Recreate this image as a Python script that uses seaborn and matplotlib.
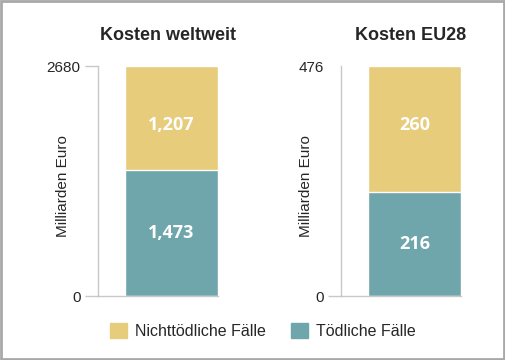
import numpy as np
import matplotlib
matplotlib.use("Agg")
import matplotlib.pyplot as plt
import matplotlib.patches as mpatches
import seaborn as sns
import pandas as pd

# Daten
titles = ["Kosten weltweit", "Kosten EU28"]
toedlich = [1473, 216]
nicht_toedlich = [1207, 260]
bar_labels_fatal = ["1,473", "216"]
bar_labels_nonfatal = ["1,207", "260"]
legend_labels = ["Nichttödliche Fälle", "Tödliche Fälle"]

yellow = "#E6CC7B"
teal = "#6FA6AB"
grey = "#C8C8C8"

sns.set_style("white")
plt.rcParams["font.family"] = ["Liberation Sans", "DejaVu Sans"]
narrow = ["Liberation Sans Narrow", "Liberation Sans", "DejaVu Sans"]
label_font = ["Open Sans", "DejaVu Sans"]

W, H = 506, 360
fig = plt.figure(figsize=(W / 100, H / 100), dpi=100)

# Achsen in Pixelkoordinaten (links, unten, breite, hoehe)
ax_px = [(98, 64, 120, 230), (341, 64, 120, 230)]

for i, (x0, y0, w, h) in enumerate(ax_px):
    ax = fig.add_axes([x0 / W, y0 / H, w / W, h / H])
    total = toedlich[i] + nicht_toedlich[i]
    df = pd.DataFrame({"cat": ["a"], "total": [total], "fatal": [toedlich[i]]})
    sns.barplot(data=df, x="cat", y="total", color=yellow, width=1.0,
                saturation=1, ax=ax)
    sns.barplot(data=df, x="cat", y="fatal", color=teal, width=1.0,
                saturation=1, ax=ax)
    ax.set_xlim(-0.79, 0.5)
    ax.set_ylim(0, total)
    ax.set_yticks([0, total])
    ax.set_yticklabels(["0", str(total)], fontsize=11)
    ax.set_xticks([])
    ax.set_xlabel("")
    ax.set_ylabel("Milliarden Euro", fontsize=11)
    ax.yaxis.set_label_coords(-0.23, 0.48)
    ax.tick_params(axis="y", length=9.5, width=1, color=grey, pad=3, left=True)
    if i == 1:
        ax.yaxis.get_major_ticks()[1].tick1line.set_visible(False)
    for side in ["top", "right"]:
        ax.spines[side].set_visible(False)
    ax.spines["left"].set_color(grey)
    ax.spines["bottom"].set_color(grey)
    ax.spines["left"].set_linewidth(1)
    ax.spines["bottom"].set_linewidth(1)
    # Werte in die Balken
    ax.text(0, toedlich[i] / 2, bar_labels_fatal[i], color="white",
            ha="center", va="center", fontsize=13, fontweight="bold",
            family=label_font)
    ax.text(0, 0.745, bar_labels_nonfatal[i], color="white",
            transform=ax.get_xaxis_transform(),
            ha="center", va="center", fontsize=13, fontweight="bold",
            family=label_font)
    ax.set_title(titles[i], fontsize=13, fontweight="bold", family=narrow,
                 pad=19, x=0.58)

# Legende
handles = [mpatches.Patch(color=yellow, label=legend_labels[0]),
           mpatches.Patch(color=teal, label=legend_labels[1])]
fig.legend(handles=handles, loc="center", bbox_to_anchor=(263 / W, 1 - 331 / H),
           ncol=2, frameon=False, fontsize=11.5, handlelength=1.05,
           handleheight=1.05, columnspacing=1.6, handletextpad=0.5)

# Rahmen
fig.patches.append(mpatches.Rectangle((0.002, 0.003), 0.994, 0.994,
                                      transform=fig.transFigure, fill=False,
                                      edgecolor="#A8A8A8", linewidth=2))

fig.savefig("out.png", dpi=100)
